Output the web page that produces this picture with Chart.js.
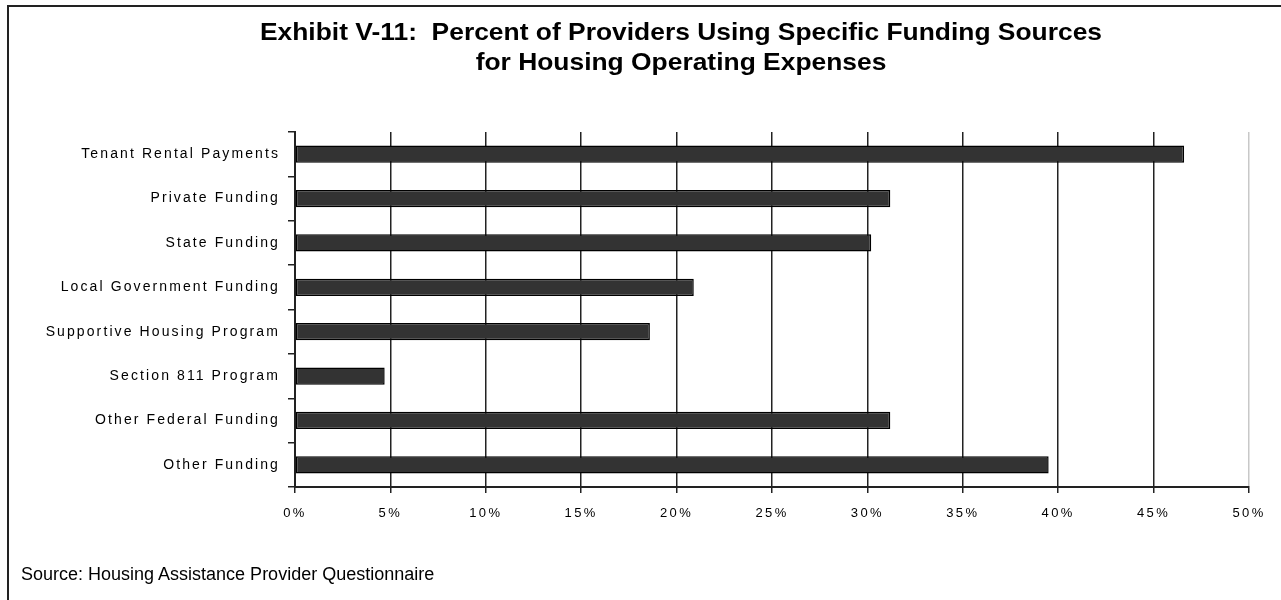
<!DOCTYPE html>
<html>
<head>
<meta charset="utf-8">
<title>Exhibit V-11</title>
<script src="https://cdn.jsdelivr.net/npm/chart.js@4.4.1/dist/chart.umd.min.js"></script>
<style>
  html, body { margin: 0; padding: 0; background: #fff; }
  #wrap { position: relative; width: 1281px; height: 600px; overflow: hidden; }
  #c { position: absolute; left: 0; top: 0; }
  #frame { position: absolute; left: 7px; top: 5px; width: 1320px; height: 640px;
           border-left: 2px solid #222; border-top: 2px solid #222; }
  #title { position: absolute; left: 0; width: 1362px; top: 17px; text-align: center;
           font: bold 24px "Liberation Sans", Arial, sans-serif; line-height: 30px; color: #000;
           transform: scaleX(1.1); transform-origin: 50% 0; }
  #source { position: absolute; left: 21px; top: 564px; white-space: nowrap;
            font: 18px "Liberation Sans", Arial, sans-serif; color: #000; }
</style>
</head>
<body>
<div id="wrap">
  <canvas id="c" width="1281" height="600"></canvas>
  <div id="frame"></div>
  <div id="title"></div>
  <div id="source"></div>
</div>
<script>
// Funding sources, top to bottom
const categories = [
  "Tenant Rental Payments",
  "Private Funding",
  "State Funding",
  "Local Government Funding",
  "Supportive Housing Program",
  "Section 811 Program",
  "Other Federal Funding",
  "Other Funding"
];
// Percent of providers using each source
const percentValues = [46.6, 31.2, 30.2, 20.9, 18.6, 4.7, 31.2, 39.5];
// Horizontal axis ticks (percent)
const xTickValues = [0, 5, 10, 15, 20, 25, 30, 35, 40, 45, 50];
const titleLines = [
  "Exhibit V-11:  Percent of Providers Using Specific Funding Sources",
  "for Housing Operating Expenses"
];
const sourceNote = "Source: Housing Assistance Provider Questionnaire";

document.getElementById('title').innerHTML = titleLines.map(t => t.replace(/  /g, ' &nbsp;')).join('<br>');
document.getElementById('source').textContent = sourceNote;

// Wide letter spacing on the axis labels (per axis)
const labelSpacing = { x: '2.4px', y: '2.1px' };
const spacedTicks = {
  id: 'spacedTicks',
  beforeDraw(chart) {
    Object.values(chart.scales).forEach(s => {
      if (s._spacedPatched) return;
      const orig = s.drawLabels;
      s.drawLabels = function (area) {
        const ctx = this.ctx;
        ctx.save();
        ctx.letterSpacing = labelSpacing[this.id] || '0px';
        orig.call(this, area);
        ctx.restore();
      };
      s._spacedPatched = true;
    });
  }
};

const fontFamily = '"Liberation Sans", Arial, sans-serif';

new Chart(document.getElementById('c'), {
  type: 'bar',
  data: {
    labels: categories,
    datasets: [{
      data: percentValues,
      backgroundColor: '#333333',
      borderColor: '#000000',
      borderWidth: 1.5,
      borderSkipped: false,
      barPercentage: 0.39,
      categoryPercentage: 1
    }]
  },
  options: {
    indexAxis: 'y',
    responsive: false,
    animation: false,
    devicePixelRatio: 1,
    layout: { padding: { top: 132, right: 32, left: 0, bottom: 0 } },
    plugins: {
      legend: { display: false },
      title: { display: false },
      tooltip: { enabled: false }
    },
    scales: {
      x: {
        type: 'linear',
        min: 0,
        max: 50,
        afterBuildTicks: s => { s.ticks = xTickValues.map(v => ({ value: v })); },
        afterFit: s => { s.height = 113; },
        ticks: {
          callback: v => v + '%',
          color: '#000',
          font: { family: fontFamily, size: 13 },
          padding: 13,
          maxRotation: 0
        },
        grid: {
          color: c => (c.tick && c.tick.value === 50) ? '#c8c8c8' : '#222',
          tickColor: '#222',
          lineWidth: 1.5,
          tickLength: 6
        },
        border: { color: '#222', width: 2 }
      },
      y: {
        type: 'category',
        afterFit: s => { s.width = 295; },
        ticks: {
          color: '#000',
          font: { family: fontFamily, size: 14 },
          padding: 8,
          autoSkip: false
        },
        grid: {
          drawOnChartArea: false,
          offset: true,
          color: '#222',
          lineWidth: 1.5,
          tickLength: 7
        },
        border: { color: '#222', width: 2 }
      }
    }
  },
  plugins: [spacedTicks]
});
</script>
</body>
</html>
